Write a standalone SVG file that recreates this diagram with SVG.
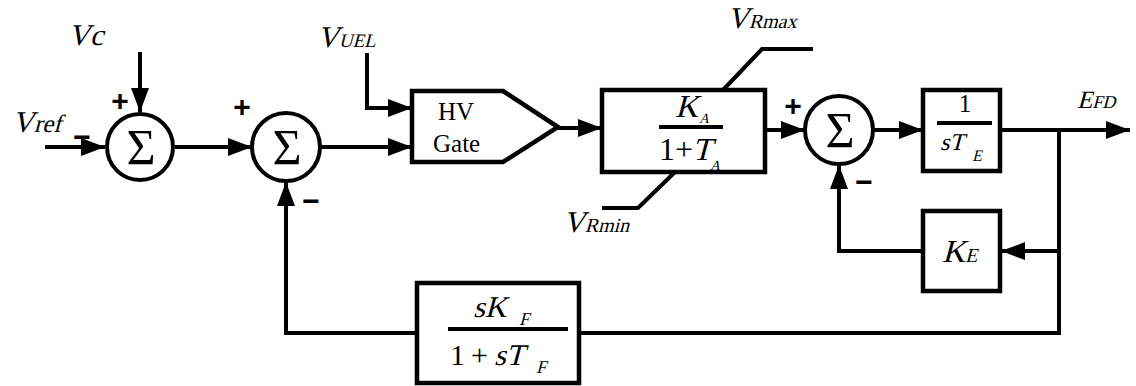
<svg xmlns="http://www.w3.org/2000/svg" width="1136" height="386" viewBox="0 0 1136 386">
<style>
.ln{fill:none;stroke:#000;stroke-width:4;stroke-linejoin:miter;stroke-linecap:butt}
.bx{fill:#fff;stroke:#000;stroke-width:4.5}
.ci{fill:#fff;stroke:#000;stroke-width:4}
.t{font-family:"Liberation Serif","Times New Roman",serif;fill:#000}
.sg{font-family:"Liberation Sans",Arial,sans-serif;font-weight:bold;font-size:30px;fill:#000;text-anchor:middle}
.sig{font-family:"Liberation Serif","Times New Roman",serif;font-size:50px;fill:#000;text-anchor:middle}
</style>
<defs>
<marker id="ah" markerUnits="userSpaceOnUse" markerWidth="24" markerHeight="18" refX="24" refY="9" orient="auto">
<path d="M0,0 L24,9 L0,18 z" fill="#000"/>
</marker>
</defs>
<rect width="1136" height="386" fill="#fff"/>
<g id="connectors">
<path class="ln" d="M140,52 V112" marker-end="url(#ah)"/>
<path class="ln" d="M45,147 H105" marker-end="url(#ah)"/>
<path class="ln" d="M175,147 H252" marker-end="url(#ah)"/>
<path class="ln" d="M320,147 H412" marker-end="url(#ah)"/>
<path class="ln" d="M367,53 V108 H412" marker-end="url(#ah)"/>
<path class="ln" d="M558,128 H602" marker-end="url(#ah)"/>
<path class="ln" d="M765,130 H805" marker-end="url(#ah)"/>
<path class="ln" d="M873,130 H923" marker-end="url(#ah)"/>
<path class="ln" d="M1000,130 H1130" marker-end="url(#ah)"/>
<path class="ln" d="M1059,130 V333 H579"/>
<path class="ln" d="M1059,251 H1001" marker-end="url(#ah)"/>
<path class="ln" d="M923,251 H839 V165" marker-end="url(#ah)"/>
<path class="ln" d="M417,333 H286 V182" marker-end="url(#ah)"/>
<path class="ln" d="M723,90 L762,49 H813"/>
<path class="ln" d="M675,172 L638,208 H602"/>
</g>
<g id="sum1">
<circle class="ci" cx="140" cy="147" r="33"/>
<text class="sig" x="141" y="164">Σ</text>
<text class="sg" x="120" y="111">+</text>
<text class="sg" x="82" y="147">−</text>
</g>
<g id="sum2">
<circle class="ci" cx="286" cy="147" r="34"/>
<text class="sig" x="287" y="164">Σ</text>
<text class="sg" x="242" y="117">+</text>
<text class="sg" x="311" y="211">−</text>
</g>
<g id="vc"><text class="t" transform="translate(68,45) skewX(-15)" font-size="30">Vc</text></g>
<g id="vref"><text class="t" transform="translate(12,132) skewX(-15)" font-size="30">V<tspan font-size="25">ref</tspan></text></g>
<g id="vuel"><text class="t" transform="translate(317,47) skewX(-15)" font-size="30">V<tspan font-size="19">UEL</tspan></text></g>
<g id="hvgate">
<polygon class="bx" points="412,91 503,91 558,127 503,162 412,162"/>
<text class="t" x="438" y="120" font-size="25">HV</text>
<text class="t" x="433" y="152" font-size="25">Gate</text>
</g>
<g id="ka">
<rect class="bx" x="602" y="90" width="163" height="82"/>
<line class="ln" x1="659" y1="127" x2="723" y2="127" stroke-width="2.5"/>
<text class="t" transform="translate(675,117) skewX(-15)" font-size="32">K</text>
<text class="t" transform="translate(699,123) skewX(-15)" font-size="14">A</text>
<text class="t" x="659" y="160" font-size="32">1+</text>
<text class="t" transform="translate(692,160) skewX(-15)" font-size="32">T</text>
<text class="t" transform="translate(710,170) skewX(-15)" font-size="14">A</text>
</g>
<g id="vrmax"><text class="t" transform="translate(727,28) skewX(-15)" font-size="30">V<tspan font-size="20">Rmax</tspan></text></g>
<g id="vrmin"><text class="t" transform="translate(563,232) skewX(-15)" font-size="30">V<tspan font-size="20">Rmin</tspan></text></g>
<g id="sum3">
<circle class="ci" cx="839" cy="130" r="34"/>
<text class="sig" x="840" y="147">Σ</text>
<text class="sg" x="793" y="116">+</text>
<text class="sg" x="864" y="192">−</text>
</g>
<g id="te">
<rect class="bx" x="923" y="90" width="77" height="81"/>
<line class="ln" x1="937" y1="123" x2="992" y2="123" stroke-width="2"/>
<text class="t" x="965" y="112" font-size="25" text-anchor="middle">1</text>
<text class="t" transform="translate(940,150) skewX(-15)" font-size="24">sT</text>
<text class="t" transform="translate(972,161) skewX(-15)" font-size="16">E</text>
</g>
<g id="efd"><text class="t" transform="translate(1077,108) skewX(-15)" font-size="25">E<tspan font-size="18">FD</tspan></text></g>
<g id="ke">
<rect class="bx" x="923" y="211" width="77" height="80"/>
<text class="t" transform="translate(942,262) skewX(-15)" font-size="32">K<tspan font-size="20">E</tspan></text>
</g>
<g id="kf">
<rect class="bx" x="417" y="283" width="162" height="100"/>
<line class="ln" x1="448" y1="329" x2="568" y2="329" stroke-width="2"/>
<text class="t" transform="translate(473,317) skewX(-15)" font-size="30">sK</text>
<text class="t" transform="translate(519,325) skewX(-15)" font-size="18">F</text>
<text class="t" x="450" y="365" font-size="30">1</text>
<text class="t" x="471" y="365" font-size="30">+</text>
<text class="t" transform="translate(494,365) skewX(-15)" font-size="30">sT</text>
<text class="t" transform="translate(536,373) skewX(-15)" font-size="18">F</text>
</g>
</svg>
